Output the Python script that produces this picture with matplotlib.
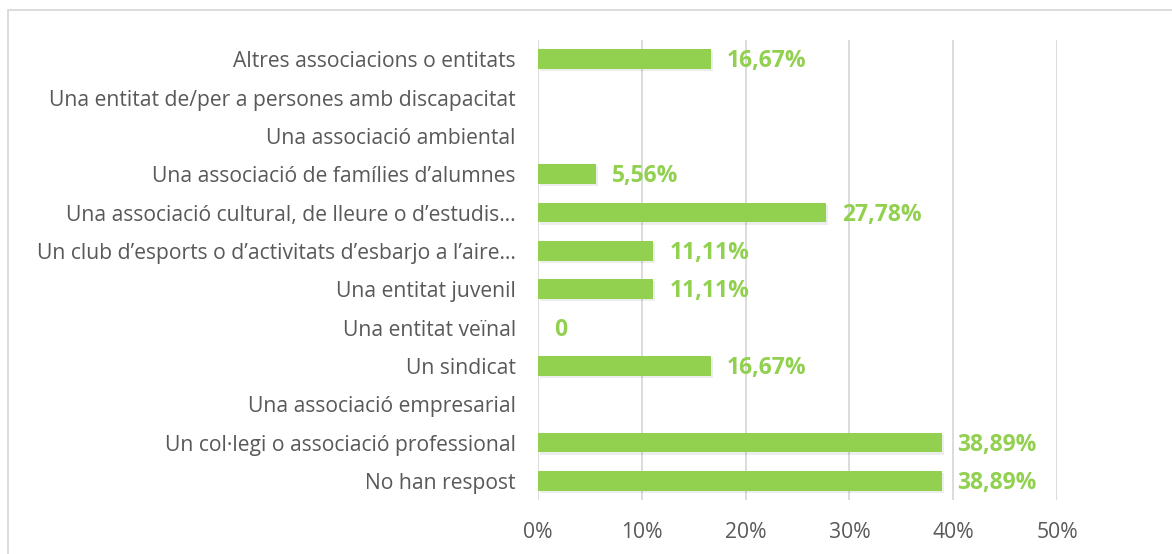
import matplotlib.pyplot as plt
import matplotlib.patheffects as pe
from matplotlib.patches import Rectangle

categories = [
    "No han respost",
    "Un col·legi o associació professional",
    "Una associació empresarial",
    "Un sindicat",
    "Una entitat veïnal",
    "Una entitat juvenil",
    "Un club d’esports o d’activitats d’esbarjo a l’aire…",
    "Una associació cultural, de lleure o d’estudis…",
    "Una associació de famílies d’alumnes",
    "Una associació ambiental",
    "Una entitat de/per a persones amb discapacitat",
    "Altres associacions o entitats",
]
values = [38.89, 38.89, None, 16.67, 0, 11.11, 11.11, 27.78, 5.56, None, None, 16.67]
ticks = [0, 10, 20, 30, 40, 50]

green = "#92D050"
grey_text = "#595959"
plt.rcParams['font.family'] = ['Open Sans', 'DejaVu Sans']

fig = plt.figure(figsize=(11.72, 5.54), dpi=100)
ax = fig.add_axes([538 / 1172, 1 - 500 / 554, (1057 - 538) / 1172, 460 / 554])

# outer chart frame
fig.patches.append(Rectangle((8 / 1172, -0.1), 1.2, 1 - 10 / 554 + 0.1,
                             transform=fig.transFigure, fill=False,
                             edgecolor="#D9D9D9", linewidth=1.3))

shadow = [pe.SimplePatchShadow(offset=(1.5, -1.5), shadow_rgbFace="#000000", alpha=0.07), pe.Normal()]
for i, v in enumerate(values):
    if v is None:
        continue
    if v > 0:
        b = ax.barh(i, v, height=0.52, color=green, zorder=3)
        for p in b:
            p.set_path_effects(shadow)
        txt = f"{v:.2f}%".replace(".", ",")
    else:
        txt = "0"
    ax.annotate(txt, xy=(v, i), xytext=(16, -2), textcoords="offset pixels",
                va="center", ha="left", fontsize=16.5, fontweight="bold", color=green, zorder=4)

ax.set_xlim(0, 50)
ax.set_ylim(-0.5, len(categories) - 0.5)
ax.set_xticks(ticks)
ax.set_xticklabels([f"{t}%" for t in ticks])
ax.set_yticks(range(len(categories)))
ax.set_yticklabels(categories)
ax.tick_params(axis="both", length=0, labelsize=15.2, colors=grey_text)
ax.tick_params(axis="y", pad=16)
ax.tick_params(axis="x", pad=16)
ax.grid(axis="x", color="#D9D9D9", linewidth=1.3, zorder=0)
for s in ax.spines.values():
    s.set_visible(False)

fig.savefig("out.png", dpi=100)
